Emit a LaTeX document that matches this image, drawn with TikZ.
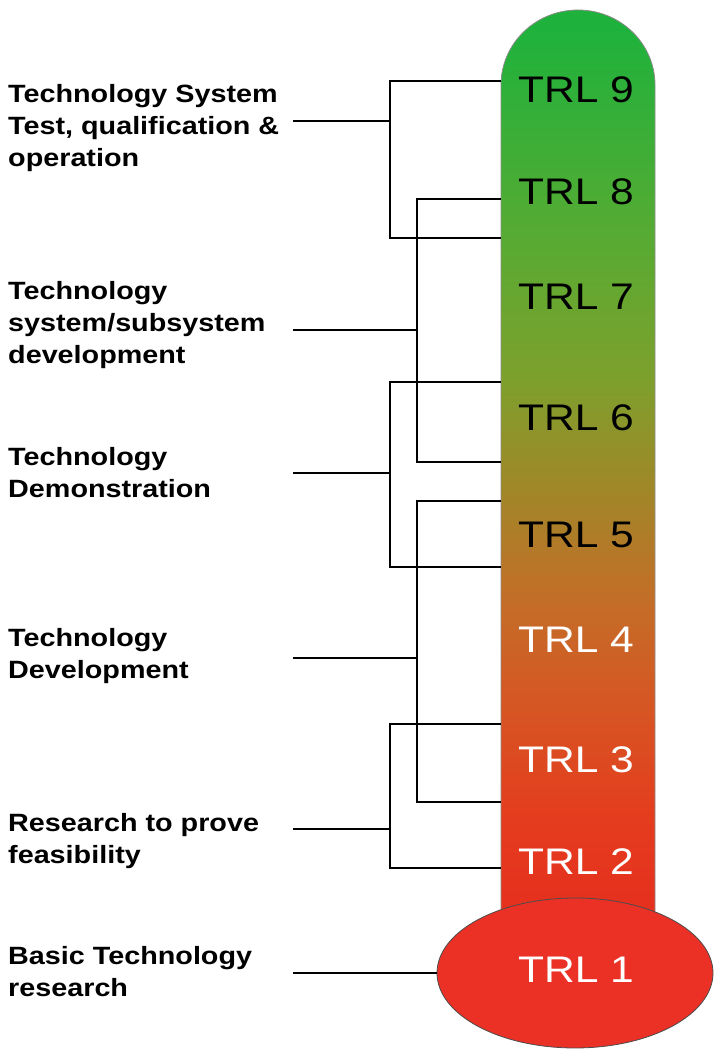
\documentclass[tikz,border=0pt]{standalone}
\usepackage{fontspec}
\usetikzlibrary{shapes.geometric,positioning}
\newfontfamily\diagfont[FakeStretch=1.15]{Liberation Sans}
\definecolor{trlA}{RGB}{230,45,30}
\definecolor{trlB}{RGB}{228,60,30}
\definecolor{trlC}{RGB}{215,85,35}
\definecolor{trlD}{RGB}{195,110,40}
\definecolor{trlE}{RGB}{160,135,40}
\definecolor{trlF}{RGB}{125,160,45}
\definecolor{trlG}{RGB}{90,170,50}
\definecolor{trlH}{RGB}{30,178,60}
\definecolor{bulbred}{RGB}{235,48,38}
\pgfdeclareverticalshading{trlshade}{100bp}{color(0bp)=(trlA); color(25bp)=(trlA); color(31bp)=(trlB); color(37bp)=(trlC); color(43bp)=(trlD); color(49bp)=(trlE); color(55bp)=(trlF); color(62bp)=(trlG); color(74bp)=(trlH); color(100bp)=(trlH)}
\tikzset
{
    trlnode/.style = {font=\diagfont\fontsize{37}{40}\selectfont, inner sep=0pt},
    darktrl/.style = {trlnode, text=black},
    lighttrl/.style = {trlnode, text=white},
    phase/.style = {anchor=west, align=left, inner sep=0pt, font=\diagfont\bfseries\fontsize{25}{32}\selectfont},
    bracket/.style = {line width=2.7pt, black}
}
\begin{document}
\begin{tikzpicture}[x=1pt, y=1pt]
\useasboundingbox (0,0) rectangle (714,1050);
\shade[shading=trlshade, draw=black!45, line width=0.8pt]
    (501,120) -- (501,965) arc[start angle=180, end angle=0, x radius=77, y radius=75] -- (655,120) -- cycle;
\node[ellipse, fill=bulbred, draw=black!70, line width=0.8pt, minimum width=276pt, minimum height=150pt, inner sep=0pt] (bulb) at (575,77) {};

\node[darktrl] (trl9) at (576,960) {TRL 9};
\node[darktrl] (trl8) at (576,858) {TRL 8};
\node[darktrl] (trl7) at (576,753) {TRL 7};
\node[darktrl] (trl6) at (576,632) {TRL 6};
\node[darktrl] (trl5) at (576,515) {TRL 5};
\node[lighttrl] (trl4) at (576,410) {TRL 4};
\node[lighttrl] (trl3) at (576,290) {TRL 3};
\node[lighttrl] (trl2) at (576,188) {TRL 2};
\node[lighttrl] (trl1) at (576,80) {TRL 1};

\node[phase] (test) at (8,922) {Technology System\\Test, qualification \&\\operation};
\node[phase] (subsys) at (8,725) {Technology\\system/subsystem\\development};
\node[phase] (demo) at (8,577) {Technology\\Demonstration};
\node[phase] (devel) at (8,394) {Technology\\Development};
\node[phase] (feas) at (8,209) {Research to prove\\feasibility};
\node[phase] (basic) at (8,78) {Basic Technology\\research};

\coordinate (e9top) at (501,969);
\coordinate (e9bot) at (501,812);
\coordinate (e8top) at (501,851);
\coordinate (e8bot) at (501,588);
\coordinate (e6top) at (501,668);
\coordinate (e6bot) at (501,483);
\coordinate (e5top) at (501,549);
\coordinate (e5bot) at (501,248);
\coordinate (e3top) at (501,326);
\coordinate (e3bot) at (501,182);

\coordinate (s1) at (293,929);
\coordinate (s2) at (293,720);
\coordinate (s3) at (293,577);
\coordinate (s4) at (293,392);
\coordinate (s5) at (293,221);
\coordinate (s6) at (293,77);

\draw[bracket] (e9top) -| (390,812) -- (e9bot);
\draw[bracket] (s1) -- (390,929);
\draw[bracket] (e8top) -| (417,588) -- (e8bot);
\draw[bracket] (s2) -- (417,720);
\draw[bracket] (e6top) -| (390,483) -- (e6bot);
\draw[bracket] (s3) -- (390,577);
\draw[bracket] (e5top) -| (417,248) -- (e5bot);
\draw[bracket] (s4) -- (417,392);
\draw[bracket] (e3top) -| (390,182) -- (e3bot);
\draw[bracket] (s5) -- (390,221);
\draw[bracket] (s6) -- (bulb.west);
\end{tikzpicture}
\end{document}
